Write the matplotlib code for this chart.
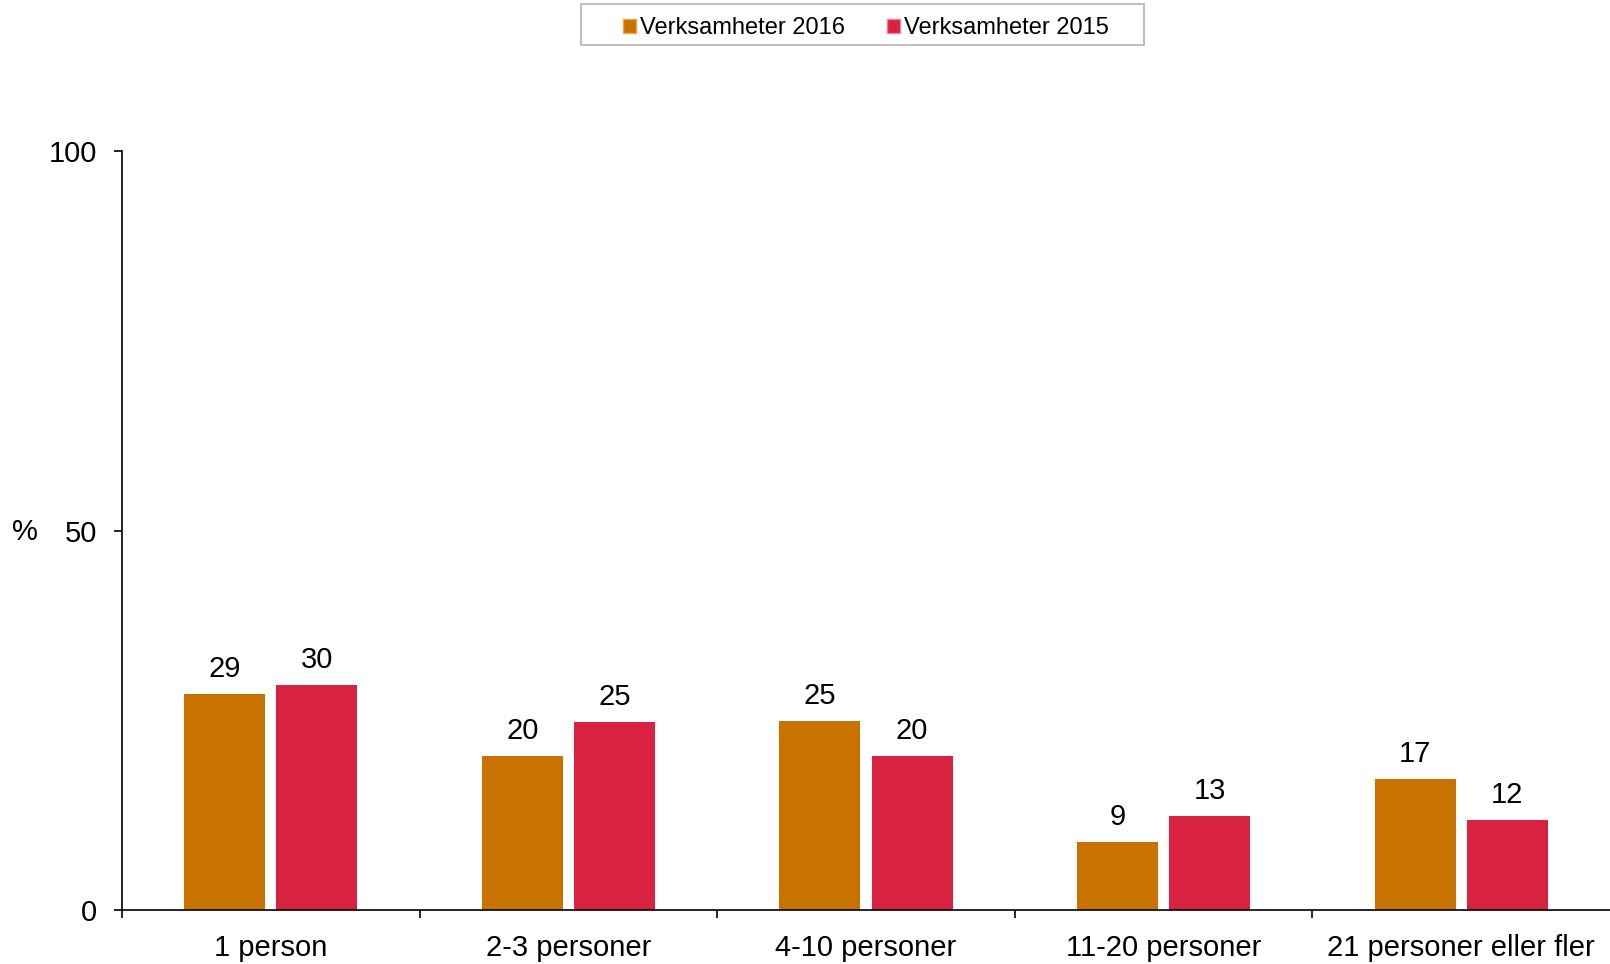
import matplotlib
matplotlib.use("Agg")
import matplotlib.pyplot as plt
import numpy as np
from matplotlib.patches import Patch, Rectangle

categories = ["1 person", "2-3 personer", "4-10 personer", "11-20 personer", "21 personer eller fler"]
values_2016 = [28.5, 20.3, 24.9, 8.9, 17.2]
values_2015 = [29.6, 24.8, 20.3, 12.4, 11.8]
labels_2016 = ["29", "20", "25", "9", "17"]
labels_2015 = ["30", "25", "20", "13", "12"]
series_names = ["Verksamheter 2016", "Verksamheter 2015"]
yticks = [0, 50, 100]

c16 = "#C87200"
c15 = "#D82240"

plt.rcParams['font.family'] = ['Liberation Sans', 'DejaVu Sans']
FS = 21

fig = plt.figure(figsize=(16.10, 9.64), dpi=100)
ax = fig.add_axes([122/1610, 1-910/964, 1-122/1610, (910-151)/964])

x = np.arange(len(categories))
w = 0.272
off = 0.155
b1 = ax.bar(x - off, values_2016, w, color=c16, label=series_names[0])
b2 = ax.bar(x + off, values_2015, w, color=c15, label=series_names[1])

for bars, labs in ((b1, labels_2016), (b2, labels_2015)):
    for r, lab in zip(bars, labs):
        ax.annotate(lab, (r.get_x() + r.get_width()/2, r.get_height()),
                    xytext=(0, 8), textcoords="offset points",
                    ha="center", va="bottom", fontsize=FS)

ax.set_xlim(-0.5, len(categories) - 0.5)
ax.set_ylim(0, 100)
ax.set_yticks(yticks)
ax.set_yticklabels([str(t) for t in yticks], fontsize=FS)
ax.tick_params(axis='y', direction='out', length=6, width=1.2, pad=12)

ax.set_xticks(np.arange(-0.5, len(categories) - 0.5, 1.0))
ax.set_xticklabels([])
ax.set_xticks(x, minor=True)
ax.set_xticklabels(categories, minor=True, fontsize=FS)
ax.tick_params(axis='x', which='major', direction='out', length=6, width=1.2)
ax.tick_params(axis='x', which='minor', length=0, pad=17)

for s in ("top", "right"):
    ax.spines[s].set_visible(False)
for s in ("left", "bottom"):
    ax.spines[s].set_linewidth(1.2)

fig.text(12/1610, 1-532/964, "%", fontsize=FS, ha="left", va="center")

# legend frame
fig.patches.append(Rectangle((581/1610, 1-45/964), (1144-581)/1610, 41/964,
                             transform=fig.transFigure, facecolor="white",
                             edgecolor="#B8B8B8", linewidth=1.3, zorder=0))
handles = [Patch(facecolor=c16, edgecolor="#E8A850", linewidth=1.0),
           Patch(facecolor=c15, edgecolor="#F08090", linewidth=1.0)]
leg = fig.legend(handles, series_names, loc="center",
                 bbox_to_anchor=(866/1610, 1-28/964), ncol=2, fontsize=17,
                 frameon=False, handlelength=0.55, handleheight=0.55,
                 handletextpad=0.2, columnspacing=1.75, borderpad=0, borderaxespad=0)

fig.savefig("out.png", dpi=100)
